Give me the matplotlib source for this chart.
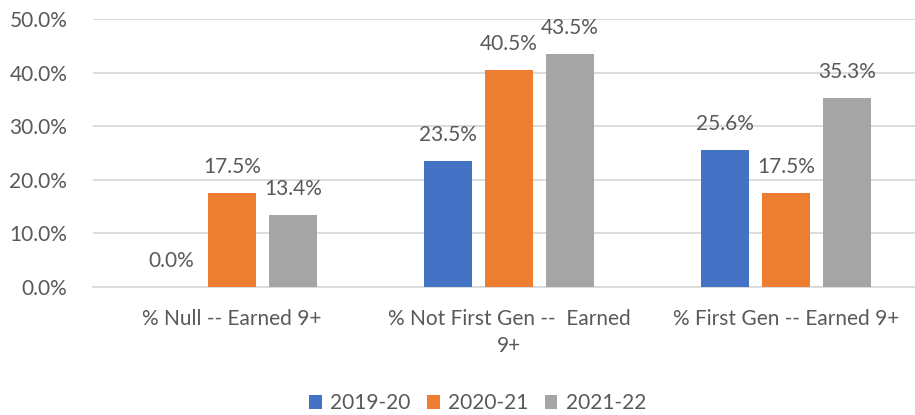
import numpy as np
import matplotlib.pyplot as plt
import matplotlib.ticker as mtick

categories = ['% Null -- Earned 9+', '% Not First Gen --  Earned\n9+', '% First Gen -- Earned 9+']
years = ['2019-20', '2020-21', '2021-22']
vals_1920 = [0.0, 23.5, 25.6]
vals_2021 = [17.5, 40.5, 17.5]
vals_2122 = [13.4, 43.5, 35.3]
colors = ['#4472C4', '#ED7D31', '#A5A5A5']
txt = '#595959'

plt.rcParams['font.family'] = ['Lato', 'DejaVu Sans']

fig = plt.figure(figsize=(9.15, 4.15), dpi=100)
ax = fig.add_axes([93 / 915, 0.3096, 822 / 915, 0.6446])

x = np.arange(len(categories))
w = 0.173
step = 0.22
for i, (vals, c, lab) in enumerate(zip([vals_1920, vals_2021, vals_2122], colors, years)):
    pos = x + (i - 1) * step
    ax.bar(pos, vals, width=w, color=c, label=lab, zorder=3)
    for p, v in zip(pos, vals):
        ax.text(p, v + 4.85, '{:.1f}%'.format(v), ha='center', va='center',
                fontsize=15, color=txt)

ax.set_xlim(-0.502, 2.466)
ax.set_ylim(0, 50)
ax.set_yticks(np.arange(0, 51, 10))
ax.yaxis.set_major_formatter(mtick.FuncFormatter(lambda v, pos: '{:.1f}%'.format(v)))
ax.set_xticks(x)
ax.set_xticklabels(categories, fontsize=15, color=txt, linespacing=1.4)
ax.tick_params(axis='y', labelsize=15, labelcolor=txt, left=False, pad=15)
ax.tick_params(axis='x', bottom=False, pad=13)
ax.grid(axis='y', color='#D9D9D9', linewidth=1.3, zorder=0)
for s in ['top', 'right', 'left']:
    ax.spines[s].set_visible(False)
ax.spines['bottom'].set_color('#D9D9D9')
ax.spines['bottom'].set_linewidth(1.3)

fig.legend(loc='center', bbox_to_anchor=(0.522, 0.028), ncol=3, frameon=False,
           fontsize=15, handlelength=0.6, handleheight=0.6, handletextpad=0.4,
           columnspacing=0.8, labelcolor=txt)

fig.savefig('out.png', dpi=100)
